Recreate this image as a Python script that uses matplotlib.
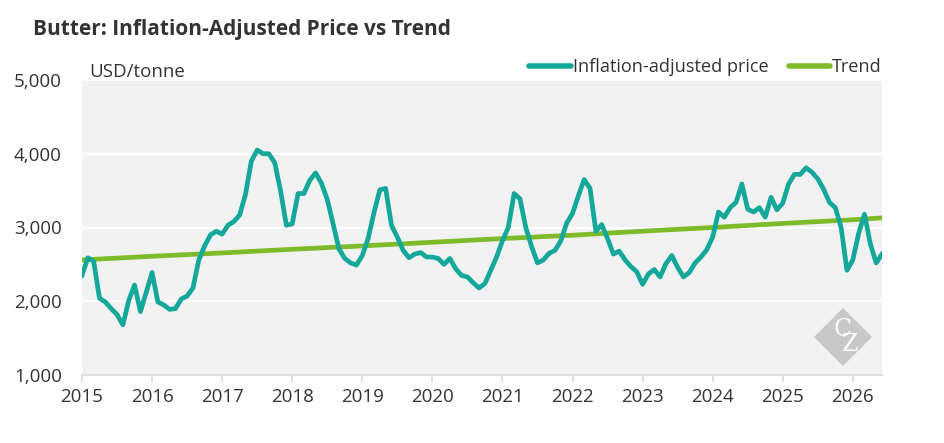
import numpy as np
import matplotlib
matplotlib.use("Agg")
import matplotlib.pyplot as plt
from matplotlib.patches import Polygon

plt.rcParams['font.family'] = ['Open Sans', 'DejaVu Sans']

# monthly inflation-adjusted butter price, USD/tonne (Jan 2015 - Jun 2026)
price_2015 = [2350, 2590, 2540, 2040, 1990, 1900, 1820, 1680, 2010, 2220, 1860, 2120]
price_2016 = [2390, 1990, 1950, 1890, 1900, 2030, 2070, 2180, 2560, 2750, 2900, 2950]
price_2017 = [2910, 3030, 3080, 3170, 3450, 3900, 4050, 4000, 4000, 3880, 3500, 3030]
price_2018 = [3050, 3460, 3460, 3640, 3740, 3600, 3380, 3050, 2710, 2580, 2520, 2490]
price_2019 = [2620, 2850, 3200, 3510, 3530, 3030, 2870, 2690, 2590, 2640, 2660, 2600]
price_2020 = [2600, 2580, 2500, 2580, 2440, 2350, 2330, 2250, 2180, 2240, 2420, 2600]
price_2021 = [2820, 3000, 3460, 3390, 3000, 2740, 2520, 2560, 2650, 2690, 2820, 3060]
price_2022 = [3190, 3430, 3650, 3530, 2950, 3040, 2850, 2640, 2680, 2560, 2470, 2400]
price_2023 = [2230, 2370, 2430, 2330, 2510, 2620, 2460, 2330, 2390, 2520, 2600, 2700]
price_2024 = [2870, 3210, 3140, 3270, 3340, 3590, 3250, 3210, 3270, 3140, 3410, 3240]
price_2025 = [3330, 3590, 3720, 3720, 3810, 3750, 3660, 3520, 3340, 3270, 3000, 2420]
price_2026 = [2560, 2920, 3180, 2780, 2520, 2640]

# trend line read at year starts (plus last month)
trend_x = [2015, 2016, 2017, 2018, 2019, 2020, 2021, 2022, 2023, 2024, 2025, 2026, 2026 + 5 / 12]
trend_y = [2560, 2610, 2655, 2705, 2750, 2800, 2850, 2895, 2950, 3000, 3055, 3105, 3130]

years = [str(y) for y in range(2015, 2027)]
yticks = [1000, 2000, 3000, 4000, 5000]

price = price_2015 + price_2016 + price_2017 + price_2018 + price_2019 + price_2020 \
    + price_2021 + price_2022 + price_2023 + price_2024 + price_2025 + price_2026
t = 2015 + np.arange(len(price)) / 12

teal = '#14A89A'
green = '#7DBB2A'
txt = '#333333'

fig = plt.figure(figsize=(9.45, 4.43), dpi=100)
ax = fig.add_axes([82 / 945, 1 - 375 / 443, 800 / 945, 295 / 443])
ax.set_facecolor('#F2F2F2')

ax.plot(trend_x, trend_y, color=green, lw=3.4, solid_capstyle='butt', zorder=3,
        label='Trend')
ax.plot(t, price, color=teal, lw=3.4, solid_joinstyle='round', zorder=4,
        label='Inflation-adjusted price')

ax.set_xlim(2015, t[-1])
ax.set_ylim(1000, 5000)
ax.set_yticks(yticks)
ax.set_yticklabels([f'{v:,}' for v in yticks])
ax.set_xticks([int(y) for y in years])
ax.set_xticklabels(years)

ax.grid(axis='y', color='white', lw=1.5, zorder=1)
ax.set_axisbelow(True)
for s in ['top', 'right', 'left']:
    ax.spines[s].set_visible(False)
ax.spines['bottom'].set_color('#D9D9D9')
ax.spines['bottom'].set_linewidth(1.2)
ax.tick_params(axis='x', colors='#D9D9D9', length=5, width=1.2, labelcolor=txt,
               labelsize=13.5, pad=4)
ax.tick_params(axis='y', length=0, labelcolor=txt, labelsize=13.5, pad=14.4)

# legend (order as in reference)
h, l = ax.get_legend_handles_labels()
leg = fig.legend(h[::-1], l[::-1], loc='upper right', bbox_to_anchor=(0.941, 0.885),
                 ncol=2, frameon=False, fontsize=13.1, handlelength=2.3,
                 handletextpad=0.1, columnspacing=1.1, borderaxespad=0)
for text in leg.get_texts():
    text.set_color(txt)
for line in leg.get_lines():
    line.set_linewidth(4)
    line.set_solid_capstyle('round')

fig.text(33 / 945, 1 - 30 / 443, 'Butter: Inflation-Adjusted Price vs Trend',
         fontsize=15, fontweight='bold', color=txt, va='center', ha='left')
fig.text(89 / 945, 1 - 72 / 443, 'USD/tonne', fontsize=13.5, color=txt,
         va='center', ha='left')

# watermark
cx, cy, r = 843 / 945, 1 - 337 / 443, 29
dx, dy = r / 945, r / 443
wm = Polygon([(cx, cy + dy), (cx + dx, cy), (cx, cy - dy), (cx - dx, cy)],
             closed=True, transform=fig.transFigure, facecolor='#C8C8C8',
             edgecolor='none', zorder=5)
fig.add_artist(wm)
fig.text(cx, cy, 'C\n  Z', fontsize=17, color='white', family='DejaVu Serif',
         ha='center', va='center', linespacing=0.55, zorder=6)

fig.savefig('out.png', dpi=100)
